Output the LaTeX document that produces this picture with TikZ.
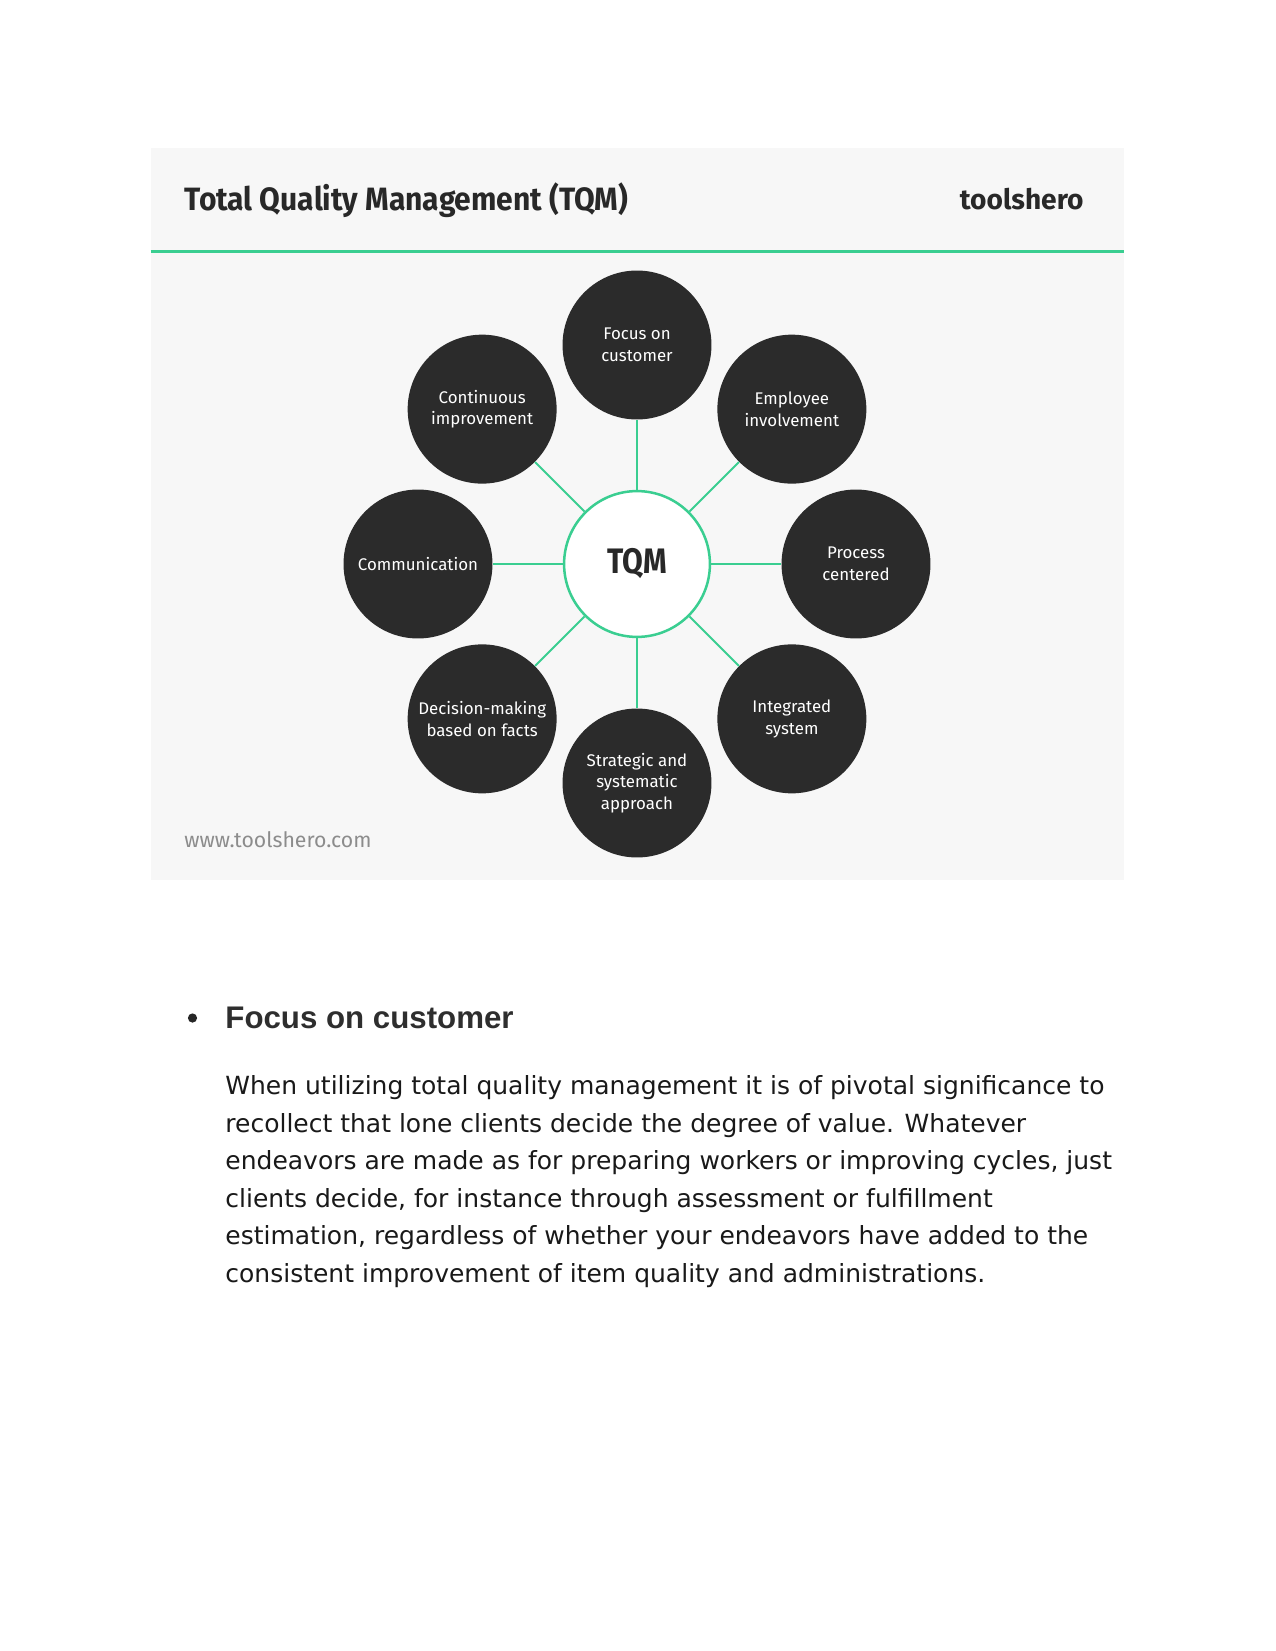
\documentclass[tikz,border=0pt]{standalone}
\usepackage{fontspec}
\setmainfont{DejaVu Sans}
\newfontfamily\diagfont{Fira Sans}
\newfontfamily\titlefont[FakeStretch=0.93]{Fira Sans}
\newfontfamily\hubfont[FakeStretch=0.85]{Fira Sans}
\newfontfamily\headfont{Liberation Sans}
\usetikzlibrary{calc}
\definecolor{panelbg}{RGB}{247,247,247}
\definecolor{mint}{RGB}{58,206,145}
\definecolor{petalfill}{RGB}{43,43,43}
\definecolor{inktext}{RGB}{40,40,40}
\tikzset{
  hub/.style={circle, draw=mint, line width=1.2pt, fill=white, minimum size=70pt,
              inner sep=0pt, font=\hubfont\fontsize{17}{20}\selectfont\bfseries, text=inktext},
  petal/.style={circle, fill=petalfill, minimum size=71.5pt, inner sep=0pt, align=center,
                text=white, font=\diagfont\fontsize{8.1}{10.4}\selectfont},
  spoke/.style={draw=mint, line width=1pt},
  body/.style={anchor=base west, align=left, inner sep=0pt, text=black!90,
               font=\fontsize{12}{18}\selectfont},
}
\begin{document}
\begin{tikzpicture}[x=0.48pt, y=0.48pt]
\useasboundingbox (0,0) rectangle (1275,-1651);
\fill[white] (0,0) rectangle (1275,-1651);

% panel
\fill[panelbg] (150.5,-148.5) rectangle (1124,-880);
\draw[mint, line width=1.1pt] (150.5,-251.5) -- (1124,-251.5);
\node[anchor=west, inner sep=0pt, text=inktext,
      font=\titlefont\fontsize{15.5}{18}\selectfont\bfseries] (title) at (184,-200)
  {Total Quality Management (TQM)};
\node[anchor=east, inner sep=0pt, text=inktext,
      font=\diagfont\fontsize{13.5}{16}\selectfont\bfseries] (brand) at (1084,-199)
  {toolshero};
\node[anchor=west, inner sep=0pt, text=black!45,
      font=\diagfont\fontsize{10.2}{12}\selectfont] (site) at (184,-840)
  {www.toolshero.com};

% hub and petals
\node[hub] (tqm) at (637,-564) {TQM};
\node[petal] (focus)    at ($(tqm)+(90:219)$)  {Focus on\\customer};
\node[petal] (employee) at ($(tqm)+(45:219)$)  {Employee\\involvement};
\node[petal] (process)  at ($(tqm)+(0:219)$)   {Process\\centered};
\node[petal] (integr)   at ($(tqm)+(-45:219)$) {Integrated\\system};
\node[petal] (strat)    at ($(tqm)+(-90:219)$) {Strategic and\\systematic\\approach};
\node[petal] (decision) at ($(tqm)+(-135:219)$){Decision-making\\based on facts};
\node[petal] (comm)     at ($(tqm)+(180:219)$) {Communication};
\node[petal] (contin)   at ($(tqm)+(135:219)$) {Continuous\\improvement};

\foreach \p in {focus,employee,process,integr,strat,decision,comm,contin}
  \draw[spoke] (tqm) -- (\p);

% text below
\fill[black!85] (192.5,-1018) circle (4.6);
\node[anchor=west, inner sep=0pt, text=black!82,
      font=\headfont\fontsize{15}{18}\selectfont\bfseries] (head) at (225,-1018)
  {Focus on customer};
\node[body] (para) at (225,-1282)
  {When utilizing total quality management it is of pivotal significance to\\
   recollect that lone clients decide the degree of value. Whatever\\
   endeavors are made as for preparing workers or improving cycles, just\\
   clients decide, for instance through assessment or fulfillment\\
   estimation, regardless of whether your endeavors have added to the\\
   consistent improvement of item quality and administrations.};
\end{tikzpicture}
\end{document}
